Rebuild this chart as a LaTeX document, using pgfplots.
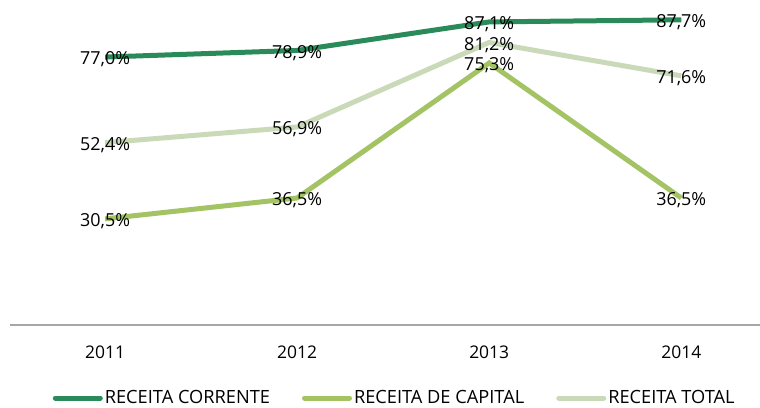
\documentclass[border=0pt]{standalone}
\usepackage{fontspec}
\setmainfont{Open Sans}
\usepackage{pgfplots}
\pgfplotsset{compat=1.18}
\definecolor{cCor}{HTML}{2B8A5A}
\definecolor{cCap}{HTML}{A3C364}
\definecolor{cTot}{HTML}{CADAB8}
\definecolor{cAx}{HTML}{A6A6A6}
\begin{document}
\begin{tikzpicture}[x=1bp,y=1bp]
\useasboundingbox (0,0) rectangle (760,407);
\begin{axis}[
  at={(10bp,82bp)}, anchor=south west,
  scale only axis, width=750bp, height=325bp,
  xmin=-0.495, xmax=3.41, ymin=0, ymax=93.4,
  clip=false,
  axis x line*=bottom, axis y line=none,
  x axis line style={draw=cAx, line width=2bp, -},
  xtick={0,1,2,3}, xticklabels={2011,2012,2013,2014},
  major tick length=0pt,
  xticklabel style={font=\fontsize{17.5}{19}\selectfont, yshift=-17bp},
  ytick=\empty,
  legend columns=3,
  legend style={at={(0.513,-0.2246)}, anchor=center, draw=none, fill=none,
    font=\fontsize{18.3}{20}\selectfont, inner sep=0pt,
    /tikz/every even column/.append style={column sep=30bp}},
  legend image code/.code={\draw[#1, line cap=round] (0bp,0bp) -- (45bp,0bp);},
  every node near coord/.append style={anchor=center, yshift=-2.5bp, font=\fontsize{18}{20}\selectfont, text=black},
]
\addplot[cCor, line width=5bp, mark=none] coordinates {(0,77.0) (1,78.9) (2,87.1) (3,87.7)};
\addlegendentry{RECEITA CORRENTE}
\addplot[cCap, line width=5bp, mark=none] coordinates {(0,30.5) (1,36.5) (2,75.3) (3,36.5)};
\addlegendentry{RECEITA DE CAPITAL}
\addplot[cTot, line width=5bp, mark=none] coordinates {(0,52.4) (1,56.9) (2,81.2) (3,71.6)};
\addlegendentry{RECEITA TOTAL}
\addplot[draw=none, mark=none, forget plot, point meta=explicit symbolic, nodes near coords]
  coordinates {(0,77.0) [77,0\%] (1,78.9) [78,9\%] (2,87.1) [87,1\%] (3,87.7) [87,7\%]};
\addplot[draw=none, mark=none, forget plot, point meta=explicit symbolic, nodes near coords]
  coordinates {(0,30.5) [30,5\%] (1,36.5) [36,5\%] (2,75.3) [75,3\%] (3,36.5) [36,5\%]};
\addplot[draw=none, mark=none, forget plot, point meta=explicit symbolic, nodes near coords]
  coordinates {(0,52.4) [52,4\%] (1,56.9) [56,9\%] (2,81.2) [81,2\%] (3,71.6) [71,6\%]};
\end{axis}
\end{tikzpicture}
\end{document}
